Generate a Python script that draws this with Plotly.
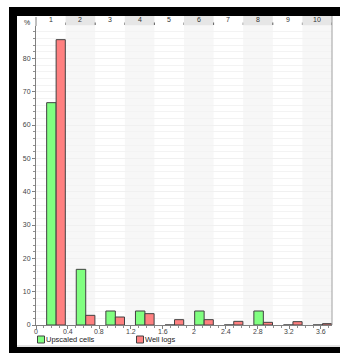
import plotly.graph_objects as go

# ---- data ----
bin_labels = ["1", "2", "3", "4", "5", "6", "7", "8", "9", "10"]
bin_width = 0.374
bin_edges = [i * bin_width for i in range(len(bin_labels))]
upscaled_cells = [66.7, 16.7, 4.2, 4.2, 0, 4.2, 0, 4.2, 0, 0]
well_logs = [85.6, 2.9, 2.4, 3.4, 1.6, 1.6, 1.1, 0.8, 1.0, 0.4]
x_ticks = [0, 0.4, 0.8, 1.2, 1.6, 2, 2.4, 2.8, 3.2, 3.6]
y_ticks = [0, 10, 20, 30, 40, 50, 60, 70, 80]

# ---- geometry (pixels) ----
FW, FH = 340, 353
L, R, T, B = 36, 332, 26, 325
PW, PH = R - L, B - T


def px(x):
    return (x - L) / PW


def py(y):
    return (B - y) / PH


FONT = "Liberation Sans"
fig = go.Figure()

fig.add_trace(go.Bar(
    x=bin_edges, y=upscaled_cells, name="Upscaled cells",
    offset=0.36 * bin_width, width=0.32 * bin_width,
    marker=dict(color="#80ff80", line=dict(color="#404040", width=1)),
))
fig.add_trace(go.Bar(
    x=bin_edges, y=well_logs, name="Well logs",
    offset=0.68 * bin_width, width=0.31 * bin_width,
    marker=dict(color="#ff8080", line=dict(color="#404040", width=1)),
))

shapes = []
annotations = []

# alternating bin bands in plot and top strip
for i, e in enumerate(bin_edges):
    if i % 2 == 1:
        shapes.append(dict(type="rect", xref="x", yref="paper", x0=e, x1=e + bin_width,
                           y0=0, y1=1, fillcolor="#f7f7f7", line=dict(width=0), layer="below"))
        shapes.append(dict(type="rect", xref="x", yref="paper", x0=e, x1=e + bin_width,
                           y0=py(25.5), y1=py(16), fillcolor="#e6e6e6", line=dict(width=0)))
    shapes.append(dict(type="line", xref="x", yref="paper", x0=e + bin_width, x1=e + bin_width,
                       y0=py(25), y1=py(22.5), line=dict(color="#606060", width=1)))
    annotations.append(dict(xref="x", yref="paper", x=e + bin_width / 2, y=py(19.5),
                            yanchor="middle", text=bin_labels[i], showarrow=False,
                            font=dict(family=FONT, size=7, color="#333333")))

# x tick labels (placed just under the axis)
for v in x_ticks:
    annotations.append(dict(xref="x", yref="paper", x=v, y=py(331.5),
                            xanchor="center", yanchor="middle", text=str(v), showarrow=False,
                            font=dict(family=FONT, size=7, color="#444444")))

# y axis extension and right border
shapes.append(dict(type="line", xref="paper", yref="paper", x0=0, x1=0, y0=1, y1=py(17),
                   line=dict(color="#808080", width=1)))
shapes.append(dict(type="line", xref="paper", yref="paper", x0=1, x1=1, y0=0, y1=py(16),
                   line=dict(color="#a0a0a0", width=1)))

# black window frame
shapes.append(dict(type="rect", xref="paper", yref="paper", x0=px(9), x1=px(341),
                   y0=py(16), y1=py(7), fillcolor="black", line=dict(width=0)))
shapes.append(dict(type="rect", xref="paper", yref="paper", x0=px(9), x1=px(17),
                   y0=py(354), y1=py(7), fillcolor="black", line=dict(width=0)))
shapes.append(dict(type="rect", xref="paper", yref="paper", x0=px(9), x1=px(341),
                   y0=py(354), y1=py(347), fillcolor="black", line=dict(width=0)))
shapes.append(dict(type="line", xref="paper", yref="paper", x0=px(17), x1=px(341),
                   y0=py(346), y1=py(346), line=dict(color="#c8c8c8", width=1)))

# manual legend
shapes.append(dict(type="rect", xref="paper", yref="paper", x0=px(37.5), x1=px(44.5),
                   y0=py(343), y1=py(336), fillcolor="#80ff80", line=dict(color="#404040", width=1)))
shapes.append(dict(type="rect", xref="paper", yref="paper", x0=px(136.5), x1=px(143.5),
                   y0=py(343), y1=py(336), fillcolor="#ff8080", line=dict(color="#404040", width=1)))
annotations.append(dict(xref="paper", yref="paper", x=px(44), y=py(339.5),
                        xanchor="left", yanchor="middle",
                        text="Upscaled cells", showarrow=False,
                        font=dict(family=FONT, size=7.5, color="#222222")))
annotations.append(dict(xref="paper", yref="paper", x=px(143), y=py(339.5),
                        xanchor="left", yanchor="middle",
                        text="Well logs", showarrow=False,
                        font=dict(family=FONT, size=7.5, color="#222222")))

# y axis unit
annotations.append(dict(xref="paper", yref="paper", x=px(22), y=py(22),
                        yanchor="middle", text="%", showarrow=False,
                        font=dict(family=FONT, size=7, color="#333333")))

fig.update_layout(
    width=FW, height=FH,
    margin=dict(l=L, r=FW - R, t=T, b=FH - B, pad=0),
    paper_bgcolor="white", plot_bgcolor="white",
    barmode="overlay", showlegend=False,
    shapes=shapes, annotations=annotations,
    font=dict(family=FONT, size=7, color="#444444"),
    xaxis=dict(range=[0, 3.74], tickmode="array", tickvals=x_ticks,
               showticklabels=False,
               showgrid=False, zeroline=False, showline=True, linecolor="#808080", linewidth=1,
               ticks="outside", ticklen=3, tickcolor="#808080",
               minor=dict(dtick=0.1, ticks="outside", ticklen=2, tickcolor="#909090")),
    yaxis=dict(range=[0, 89.7], tickmode="array", tickvals=y_ticks,
               showgrid=True, gridcolor="#f0f0f0", zeroline=False,
               showline=True, linecolor="#808080", linewidth=1,
               ticks="outside", ticklen=3, tickcolor="#808080",
               minor=dict(dtick=2, ticks="outside", ticklen=2, tickcolor="#909090",
                          showgrid=True, gridcolor="#f3f3f3"),
               tickfont=dict(family=FONT, size=7, color="#444444")),
)

fig.write_html("out.html")
